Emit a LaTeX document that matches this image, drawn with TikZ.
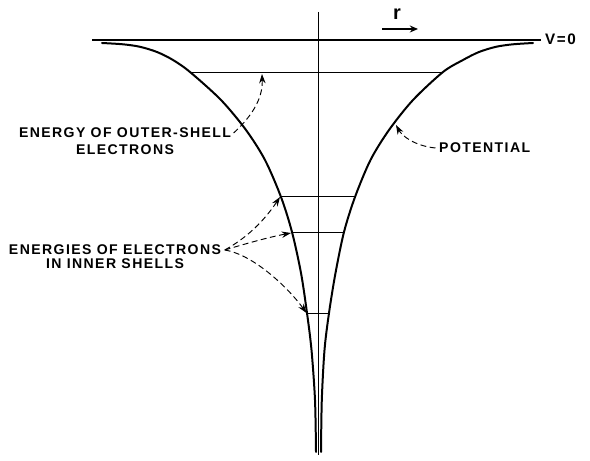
\documentclass[tikz,border=0pt]{standalone}
\usepackage{fontspec}
\setmainfont{Liberation Sans}
\newfontfamily\lettering[LetterSpace=10]{Liberation Sans}
\usetikzlibrary{arrows.meta,positioning}
\tikzset{
  lbl/.style={font=\lettering\bfseries\fontsize{12}{14}\selectfont, inner sep=0pt},
  curve/.style={line width=1.7pt, line cap=round},
  level/.style={line width=0.8pt},
  pointer/.style={-{Stealth[length=8pt,width=5.5pt]}, line width=0.8pt,
                  dash pattern=on 5pt off 3pt},
}
\def\leftwell{(102,43) (123,44.3) (140,46.8) (157,52) (173,60) (190,72) (221,100)
  (246,130) (265,160) (281,197) (292,232) (301,273) (307,313) (311.5,350)
  (315,400) (316,452)}
\def\rightwell{(321,452) (321.8,400) (324.5,350) (329,313) (335.5,273)
  (344,232) (355,197) (370.5,160) (389,130) (413,100) (443,72) (463,60)
  (479,52) (496,46.8) (513,44.3) (533,43)}
\begin{document}
\begin{tikzpicture}[x=0.03cm, y=-0.03cm]
  \useasboundingbox (0,0) rectangle (590,461);
  % Axes
  \draw[line width=1.2pt] (318.5,12) -- (318.5,455);
  \draw[line width=1.1pt] (92,40) -- (541,40);
  \node[lbl, anchor=west, font=\lettering\bfseries\fontsize{13}{15}\selectfont] (vzero) at (545,39) {V=0};
  % r direction
  \coordinate (rtail) at (382,29);
  \coordinate (rhead) at (418,29);
  \draw[line width=1.8pt, -{Stealth[length=7pt,width=6pt]}] (rtail) -- (rhead);
  \node[lbl, font=\lettering\bfseries\fontsize{17}{19}\selectfont] (rlbl) at (397,14) {r};
  % Energy levels, clipped to the well
  \begin{scope}
    \clip plot[smooth] coordinates \leftwell -- plot[smooth] coordinates \rightwell -- cycle;
    \foreach \y in {72, 196, 232, 313} {
      \draw[level] (80,\y) -- (560,\y);
    }
  \end{scope}
  % Potential
  \draw[curve] plot[smooth] coordinates \leftwell;
  \draw[curve] plot[smooth] coordinates \rightwell;
  % Labels
  \node[lbl] (outerA) at (125,133) {ENERGY OF OUTER-SHELL};
  \node[lbl, below=5pt of outerA] (outerB) {ELECTRONS};
  \node[lbl] (innerA) at (115,250) {ENERGIES OF ELECTRONS};
  \node[lbl, below=3pt of innerA] (innerB) {IN INNER SHELLS};
  \node[lbl, anchor=west] (pot) at (439,148) {POTENTIAL};
  % Pointers
  \coordinate (outerlev) at (262,74);
  \coordinate (potcurve) at (396,125);
  \coordinate (innerA1) at (280,197);
  \coordinate (innerA2) at (291,233);
  \coordinate (innerA3) at (306.5,313);
  \draw[pointer] ([xshift=2pt]outerA.east) .. controls (250,118) and (263,100) .. (outerlev);
  \draw[pointer] ([xshift=-3pt]pot.west) .. controls (415,146) and (402,136) .. (potcurve);
  \draw[pointer] ([xshift=3pt]innerA.east) .. controls (252,235) and (268,215) .. (innerA1);
  \draw[pointer] ([xshift=3pt]innerA.east) .. controls (258,240) and (275,236) .. (innerA2);
  \draw[pointer] ([xshift=3pt]innerA.east) .. controls (255,255) and (290,290) .. (innerA3);
\end{tikzpicture}
\end{document}
